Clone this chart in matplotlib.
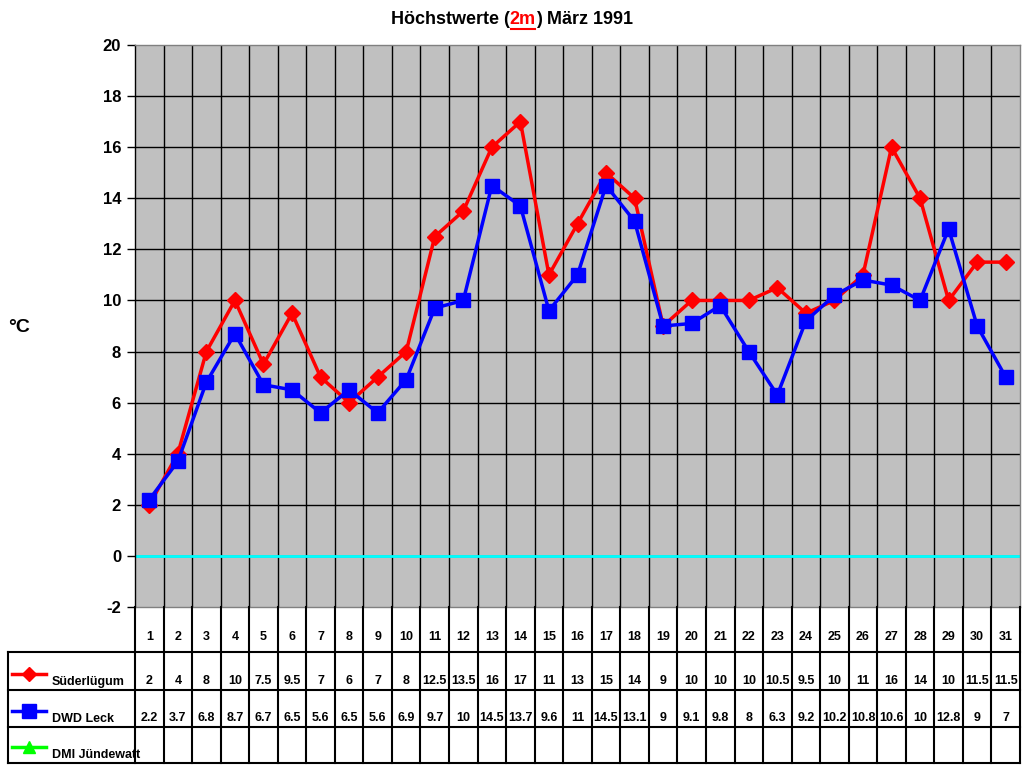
import numpy as np
import matplotlib.pyplot as plt
from matplotlib.lines import Line2D

# daily maximum temperatures, March 1991
days = list(range(1, 32))
suederluegum = [2, 4, 8, 10, 7.5, 9.5, 7, 6, 7, 8, 12.5, 13.5, 16, 17, 11, 13,
                15, 14, 9, 10, 10, 10, 10.5, 9.5, 10, 11, 16, 14, 10, 11.5, 11.5]
dwd_leck = [2.2, 3.7, 6.8, 8.7, 6.7, 6.5, 5.6, 6.5, 5.6, 6.9, 9.7, 10, 14.5, 13.7,
            9.6, 11, 14.5, 13.1, 9, 9.1, 9.8, 8, 6.3, 9.2, 10.2, 10.8, 10.6, 10,
            12.8, 9, 7]
dmi_juendewatt = [None] * 31
series_names = ["Süderlügum", "DWD Leck", "DMI Jündewatt"]
yticks = list(range(-2, 21, 2))

plt.rcParams["font.family"] = ["Liberation Sans", "DejaVu Sans"]
plt.rcParams["font.weight"] = "bold"

W, H = 1024, 768
fig = plt.figure(figsize=(W / 100, H / 100), dpi=100)

px_l, px_r, px_t, px_b = 135, 1020, 45, 607
ax = fig.add_axes([px_l / W, 1 - px_b / H, (px_r - px_l) / W, (px_b - px_t) / H])
ax.set_facecolor("#C0C0C0")
ax.set_xlim(0.5, 31.5)
ax.set_ylim(-2, 20)
ax.set_yticks(yticks)
ax.set_yticklabels([str(v) for v in yticks], fontsize=12, fontweight="bold")
ax.set_xticks([])
for y in yticks[1:-1]:
    ax.axhline(y, color="black", lw=1, zorder=1)
for x in np.arange(1.5, 31, 1):
    ax.axvline(x, color="black", lw=1, zorder=1)
ax.axhline(0, color="#00FFFF", lw=2, zorder=2)
ax.tick_params(axis="y", length=6, width=1, direction="out", pad=4)
for s in ax.spines.values():
    s.set_color("#808080")
    s.set_linewidth(1)
ax.spines["left"].set_color("black")

ax.plot(days, suederluegum, color="#FF0000", lw=2.5, marker="D", ms=8,
        mfc="#FF0000", mec="#FF0000", zorder=4)
ax.plot(days, dwd_leck, color="#0000FF", lw=2.5, marker="s", ms=10,
        mfc="#0000FF", mec="#0000FF", zorder=5)

fig.text(8 / W, 1 - 327 / H, "°C", fontsize=14, fontweight="bold",
         ha="left", va="center")

# data table below the plot
tx_l = 8
col_w = (px_r - px_l) / 31
tax = fig.add_axes([tx_l / W, 1 - 763 / H, (px_r - tx_l) / W, (763 - px_b) / H])
tax.set_xlim(0.5 - (px_l - tx_l) / col_w, 31.5)
tax.set_ylim(0, 156)
tax.axis("off")
row_edges = [0, 36, 73, 111, 156]
left_x = tax.get_xlim()[0]
lc = dict(color="black", lw=1.5, clip_on=False)
# column lines
for x in np.arange(0.5, 31.6, 1):
    tax.plot([x, x], [0, 156], **lc)
tax.plot([left_x, left_x], [0, 111], **lc)
for y in row_edges[:-1]:
    tax.plot([left_x, 31.5], [y, y], **lc)

for d in days:
    tax.text(d, 120, str(d), ha="center", va="bottom", fontsize=9, fontweight="bold")
rows = [suederluegum, dwd_leck, dmi_juendewatt]
for r, vals in enumerate(rows):
    ybot = row_edges[2 - r]
    for d, v in zip(days, vals):
        if v is None:
            continue
        tax.text(d, ybot + 3, f"{v:g}", ha="center", va="bottom", fontsize=9,
                 fontweight="bold")

styles = [("#FF0000", "D", 7), ("#0000FF", "s", 10), ("#00FF00", "^", 9)]
for r, (name, (c, m, ms)) in enumerate(zip(series_names, styles)):
    ybot = row_edges[2 - r]
    x0 = left_x + 4 / col_w
    x1 = left_x + 38 / col_w
    tax.plot([x0, x1], [ybot + 16, ybot + 16], color=c, lw=2.5, clip_on=False)
    tax.plot([(x0 + x1) / 2], [ybot + 16], marker=m, ms=ms, color=c, clip_on=False)
    tax.text(left_x + 44 / col_w, ybot + 2, name, ha="left", va="bottom",
             fontsize=9, fontweight="bold")

# title with red underlined "2m"
parts = [("Höchstwerte (", "black"), ("2m", "#FF0000"), (") März 1991", "black")]
fig.canvas.draw()
renderer = fig.canvas.get_renderer()
texts = []
total = 0
for s, c in parts:
    t = fig.text(0, 1 - 20 / H, s, fontsize=13, fontweight="bold", color=c,
                 ha="left", va="center")
    w = t.get_window_extent(renderer).width
    texts.append((t, w))
    total += w
x = W / 2 - total / 2
for t, w in texts:
    t.set_x(x / W)
    if t.get_text() == "2m":
        y_ul = (H - 29) / H
        fig.lines.append(Line2D([(x + 1) / W, (x + w - 1) / W], [y_ul, y_ul],
                                transform=fig.transFigure, color="#FF0000", lw=1.5))
    x += w

fig.savefig("out.png", dpi=100)
